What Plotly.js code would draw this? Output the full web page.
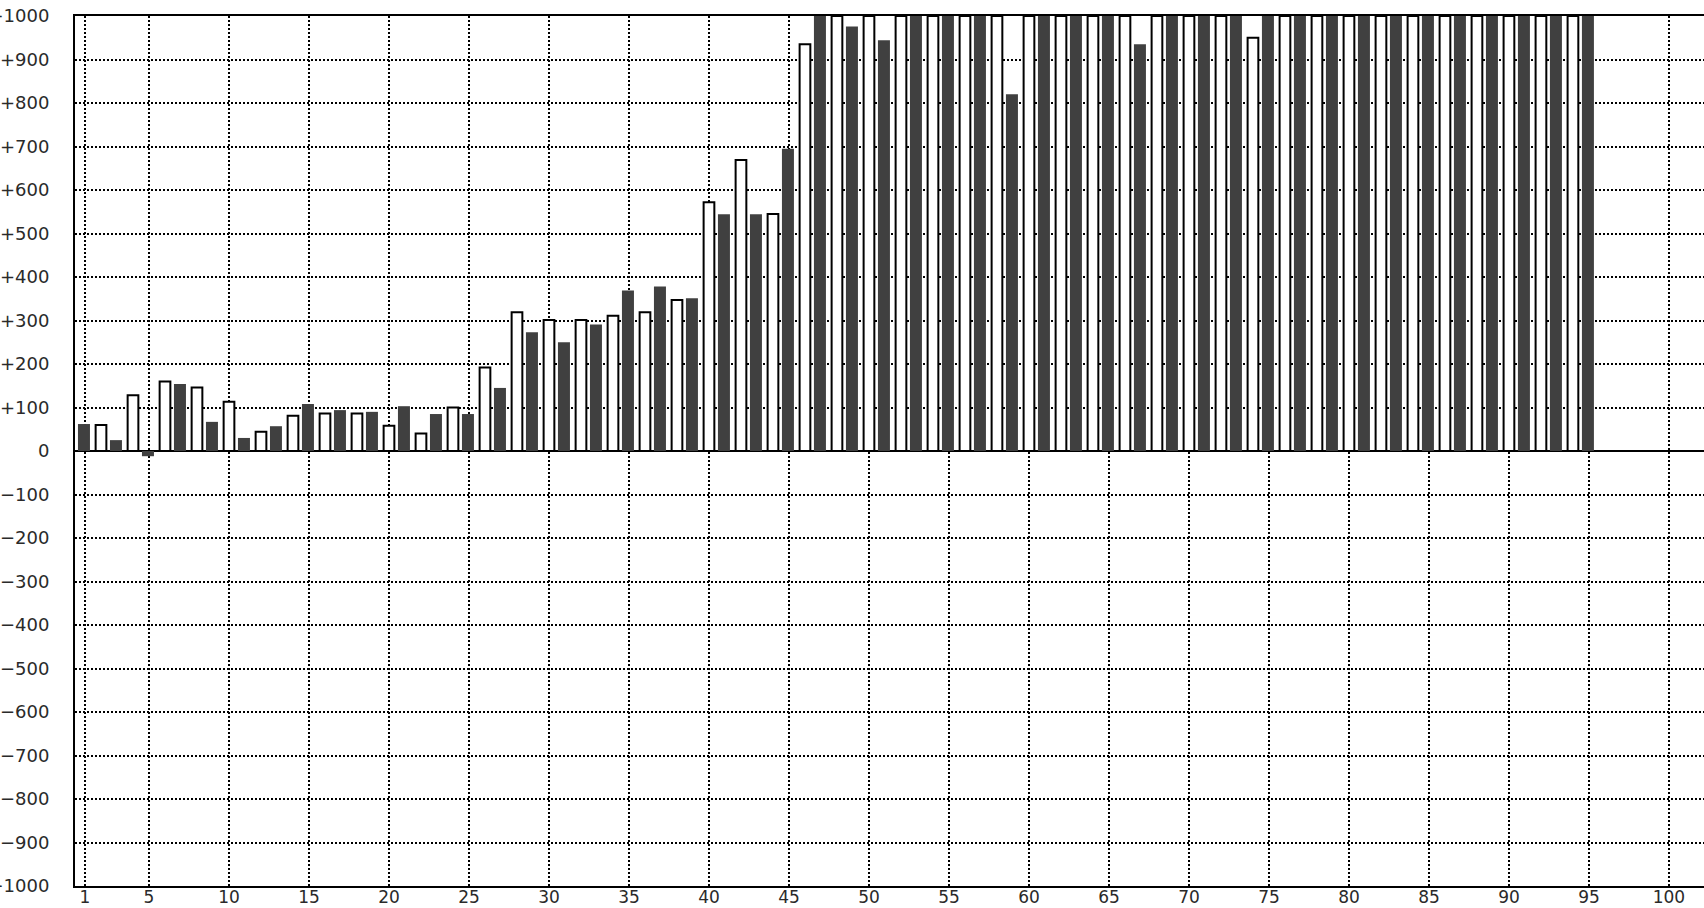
<!DOCTYPE html>
<html>
<head>
<meta charset="utf-8">
<script src="https://cdn.plot.ly/plotly-3.0.1.min.js"></script>
<style>
  html, body { margin: 0; padding: 0; background: #fff; overflow: hidden; }
  #chart { width: 1704px; height: 908px; }
</style>
</head>
<body>
<div id="chart"></div>
<script>
// Categories (bar positions)
const darkX = [1,3,5,7,9,11,13,15,17,19,21,23,25,27,29,31,33,35,37,39,41,43,45,47,49,51,53,55,57,59,61,63,65,67,69,71,73,75,77,79,81,83,85,87,89,91,93,95];
const whiteX = [2,4,6,8,10,12,14,16,18,20,22,24,26,28,30,32,34,36,38,40,42,44,46,48,50,52,54,56,58,60,62,64,66,68,70,72,74,76,78,80,82,84,86,88,90,92,94];

// Series values (bars above +1000 are cut off at the top of the chart)
const darkVals = [62,25,-12,154,67,30,57,108,94,90,103,85,85,145,273,250,291,369,378,351,544,544,695,1000,976,944,1000,1000,1000,820,1000,1000,1000,935,1000,1000,1000,1000,1000,1000,1000,1000,1000,1000,1000,1000,1000,1000];
const whiteVals = [60,128,160,146,113,44,81,86,86,58,40,100,192,319,301,301,311,319,347,572,669,545,935,1000,1000,1000,1000,1000,1000,1000,1000,1000,1000,1000,1000,1000,950,1000,1000,1000,1000,1000,1000,1000,1000,1000,1000];

// Tick labels
const xTickVals = [1,5,10,15,20,25,30,35,40,45,50,55,60,65,70,75,80,85,90,95,100];
const xTickText = ['1','5','10','15','20','25','30','35','40','45','50','55','60','65','70','75','80','85','90','95','100'];
const yTickVals = [1000,900,800,700,600,500,400,300,200,100,0,-100,-200,-300,-400,-500,-600,-700,-800,-900,-1000];
const yTickText = ['+1000','+900','+800','+700','+600','+500','+400','+300','+200','+100','0','\u2212100','\u2212200','\u2212300','\u2212400','\u2212500','\u2212600','\u2212700','\u2212800','\u2212900','\u22121000'];

const traces = [
  {
    type: 'bar', x: darkX, y: darkVals,
    width: 0.75, offset: -0.44,
    marker: { color: '#404040', line: { width: 0 } },
    hoverinfo: 'x+y', showlegend: false
  },
  {
    type: 'bar', x: whiteX, y: whiteVals,
    width: 0.67, offset: -0.335,
    marker: { color: '#ffffff', line: { color: '#000000', width: 2 } },
    hoverinfo: 'x+y', showlegend: false
  }
];

const yFont = { family: 'DejaVu Sans, sans-serif', size: 18, color: '#2a2a2a' };
const xFont = { family: 'DejaVu Sans, sans-serif', size: 17, color: '#2a2a2a' };

const layout = {
  width: 1704, height: 908,
  margin: { l: 75, r: 0, t: 16, b: 22, pad: 0 },
  paper_bgcolor: '#ffffff', plot_bgcolor: '#ffffff',
  barmode: 'overlay',
  showlegend: false,
  font: yFont,
  xaxis: {
    range: [0.375, 102.19],
    tickmode: 'array', tickvals: xTickVals, ticktext: xTickText,
    ticks: '', ticklabelstandoff: -5,
    showgrid: true, gridcolor: '#000000', gridwidth: 2, griddash: '2px,2px',
    showline: true, linecolor: '#000000', linewidth: 2, mirror: true,
    zeroline: false, tickfont: xFont, fixedrange: true
  },
  yaxis: {
    range: [-1000, 1000],
    tickmode: 'array', tickvals: yTickVals, ticktext: yTickText,
    ticks: '', ticklabelstandoff: 20,
    showgrid: true, gridcolor: '#000000', gridwidth: 2, griddash: '2px,2px',
    showline: true, linecolor: '#000000', linewidth: 2, mirror: false,
    zeroline: true, zerolinecolor: '#000000', zerolinewidth: 2,
    tickfont: yFont, fixedrange: true
  }
};

Plotly.newPlot('chart', traces, layout, { displayModeBar: false, staticPlot: true });
</script>
</body>
</html>
